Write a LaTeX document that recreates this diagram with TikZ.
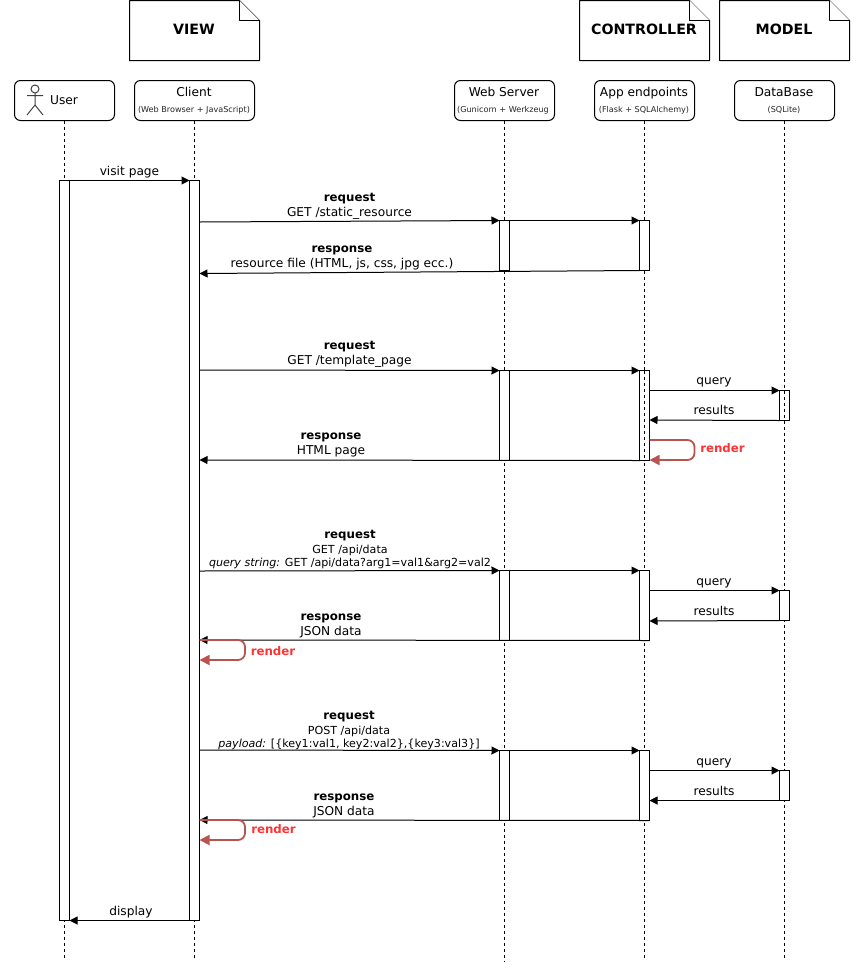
\documentclass[tikz,border=0pt]{standalone}
\usepackage{fontspec}
\setmainfont{DejaVu Sans}
\usetikzlibrary{arrows.meta}
\definecolor{rnd}{HTML}{B85450}
\definecolor{rtxt}{HTML}{FF3333}
\newcommand{\fsA}{\fontsize{12.2}{14}\selectfont}
\newcommand{\fsBold}{\fontsize{11.8}{14}\selectfont}
\newcommand{\fsB}{\fontsize{11.1}{13}\selectfont}
\newcommand{\fsS}{\fontsize{8.1}{10}\selectfont}
\tikzset{
  part/.style={draw=black,fill=white,rounded corners=6pt,line width=1pt,minimum width=#1,minimum height=40pt,inner sep=0pt,outer sep=0pt,anchor=north west},
  txt/.style={inner sep=0pt,outer sep=0pt,font=\fsA,text=black,anchor=base,yshift=-4pt},
  small/.style={inner sep=0pt,outer sep=0pt,font=\fsS,text=black!85,anchor=base,yshift=-3pt},
  subtxt/.style={inner sep=0pt,outer sep=0pt,font=\fsB,text=black,anchor=base,yshift=-4pt},
  btxt/.style={inner sep=0pt,outer sep=0pt,font=\fsBold\bfseries,text=black,anchor=base,yshift=-4pt},
  rentxt/.style={inner sep=0pt,outer sep=0pt,font=\fsBold\bfseries,text=rtxt,anchor=base,yshift=-4.3pt},
  notetxt/.style={inner sep=0pt,outer sep=0pt,font=\fontsize{14.2}{17}\selectfont\bfseries,text=black,anchor=base,yshift=-5pt},
  life/.style={draw=black,line width=0.9pt,dash pattern=on 3pt off 3pt},
  bar/.style={draw=black,fill=white,line width=1pt,minimum width=10pt,minimum height=#1,inner sep=0pt,outer sep=0pt,anchor=north},
  msg/.style={draw=black,line width=1pt,-{Triangle[length=8pt,width=8pt]}},
  rmsg/.style={draw=rnd,line width=1.8pt,rounded corners=7pt,-{Triangle[length=10pt,width=10pt]}},
  notebox/.style={draw=black,fill=white,line width=1pt,line join=round}
}
\begin{document}
\begin{tikzpicture}[x=1pt,y=-1pt]
\useasboundingbox[fill=white] (0,0) rectangle (865,978);
% notes
\draw[notebox] (129.5,0.5) -- (239.5,0.5) -- (259.5,20.5) -- (259.5,60.5) -- (129.5,60.5) -- cycle;
\draw[notebox] (239.5,0.5) -- (239.5,20.5) -- (259.5,20.5);
\node[notetxt] (nview) at (194,29.5) {VIEW};
\draw[notebox] (579.5,0.5) -- (689.5,0.5) -- (709.5,20.5) -- (709.5,60.5) -- (579.5,60.5) -- cycle;
\draw[notebox] (689.5,0.5) -- (689.5,20.5) -- (709.5,20.5);
\node[notetxt] (nctrl) at (644,29.5) {CONTROLLER};
\draw[notebox] (719.5,0.5) -- (829.5,0.5) -- (849.5,20.5) -- (849.5,60.5) -- (719.5,60.5) -- cycle;
\draw[notebox] (829.5,0.5) -- (829.5,20.5) -- (849.5,20.5);
\node[notetxt] (nmodel) at (784,29.5) {MODEL};
% participants
\node[part=100pt] (user) at (14.5,80.5) {};
\node[part=120pt] (client) at (134.5,80.5) {};
\node[part=100pt] (web) at (454.5,80.5) {};
\node[part=100pt] (app) at (594.5,80.5) {};
\node[part=100pt] (db) at (734.5,80.5) {};
\node[txt] (userl) at (64,100) {User};
\node[txt] (clientl) at (194,92.5) {Client};
\node[small] (clients) at (194,109) {(Web Browser + JavaScript)};
\node[txt] (webl) at (504,92.5) {Web Server};
\node[small] (webs) at (503,109) {(Gunicorn + Werkzeug};
\node[txt] (appl) at (644,92.5) {App endpoints};
\node[small] (apps) at (644,109) {(Flask + SQLAlchemy)};
\node[txt] (dbl) at (784,92.5) {DataBase};
\node[small] (dbs) at (784,109) {(SQLite)};
% actor
\draw[draw=black!75,line width=1pt] (35,89) circle (4pt);
\draw[draw=black!75,line width=1pt] (35,93) -- (35,105) (27,95.5) -- (43,95.5) (27,115) -- (35,105) -- (43,115);
% lifelines
\coordinate (userend) at (64.5,958);
\coordinate (clientend) at (194.5,958);
\coordinate (webend) at (504.5,962);
\coordinate (append) at (644.5,958);
\coordinate (dbend) at (784.5,958);
\draw[life] (user.south) -- (userend);
\draw[life] (client.south) -- (clientend);
\draw[life] (web.south) -- (webend);
\draw[life] (app.south) -- (append);
\draw[life] (db.south) -- (dbend);
% activation bars
\node[bar=740pt] (ub) at (64.5,180.5) {};
\node[bar=740pt] (cb) at (194.5,180.5) {};
\node[bar=50pt] (w1) at (504.5,220.5) {};
\node[bar=50pt] (a1) at (644.5,220.5) {};
\node[bar=90pt] (w2) at (504.5,370.5) {};
\node[bar=90pt] (a2) at (644.5,370.5) {};
\node[bar=30pt] (d2) at (784.5,390.5) {};
\draw[life] (a2.north) -- (a2.south);
\draw[life] (d2.north) -- (d2.south);
\node[bar=70pt] (w3) at (504.5,570.5) {};
\node[bar=70pt] (a3) at (644.5,570.5) {};
\node[bar=30pt] (d3) at (784.5,590.5) {};
\node[bar=70pt] (w4) at (504.5,750.5) {};
\node[bar=70pt] (a4) at (644.5,750.5) {};
\node[bar=30pt] (d4) at (784.5,770.5) {};
% messages
\draw[msg] (ub.north east) -- (cb.north west);
\draw[msg] (cb.east |- 0,222) -- (w1.north west);
\draw[msg] (w1.north east) -- (a1.north west);
\draw[msg] (a1.south west) -- (cb.east |- 0,273.5);
\draw[msg] (cb.east |- 0,370) -- (w2.north west);
\draw[msg] (w2.north east) -- (a2.north west);
\draw[msg] (a2.east |- 0,390.5) -- (d2.north west);
\draw[msg] (d2.south west) -- (a2.east |- 0,420);
\draw[msg] (a2.south west) -- (cb.east |- 0,460);
\draw[msg] (cb.east |- 0,571) -- (w3.north west);
\draw[msg] (w3.north east) -- (a3.north west);
\draw[msg] (a3.east |- 0,590.5) -- (d3.north west);
\draw[msg] (d3.south west) -- (a3.east |- 0,621);
\draw[msg] (a3.south east) -- (cb.east |- 0,640);
\draw[msg] (cb.east |- 0,750) -- (w4.north west);
\draw[msg] (w4.north east) -- (a4.north west);
\draw[msg] (a4.east |- 0,770.5) -- (d4.north west);
\draw[msg] (d4.south west) -- (a4.east |- 0,800.5);
\draw[msg] (a4.south east) -- (cb.east |- 0,820);
\draw[msg] (cb.south west) -- (ub.south east);
% render loops
\draw[rmsg] (a2.east |- 0,440) -- (694.5,440) -- (694.5,460) -- (a2.east |- 0,460);
\draw[rmsg] (cb.east |- 0,640) -- (245,640) -- (245,660) -- (cb.east |- 0,660);
\draw[rmsg] (cb.east |- 0,820) -- (245,820) -- (245,840) -- (cb.east |- 0,840);
% labels
\node[txt] (l1) at (129.5,171) {visit page};
\node[btxt] (l2) at (349.5,197) {request};
\node[txt] (l3) at (349.5,212) {GET /static\_resource};
\node[btxt] (l4) at (342,248) {response};
\node[txt] (l5) at (342,263) {resource file (HTML, js, css, jpg ecc.)};
\node[btxt] (l6) at (349.5,345) {request};
\node[txt] (l7) at (349.5,360) {GET /template\_page};
\node[btxt] (l8) at (331,435) {response};
\node[txt] (l9) at (331,450) {HTML page};
\node[txt] (q1) at (714,380) {query};
\node[txt] (r1) at (714,410) {results};
\node[rentxt] (x1) at (722.5,448) {render};
\node[btxt] (l10) at (350,534) {request};
\node[subtxt] (l11) at (350,549) {GET /api/data};
\node[subtxt] (l12) at (350,562) {\itshape query string:\upshape{} GET /api/data?arg1=val1\&arg2=val2};
\node[btxt] (l13) at (331,616) {response};
\node[txt] (l14) at (331,631) {JSON data};
\node[txt] (q2) at (714,581) {query};
\node[txt] (r2) at (714,611) {results};
\node[rentxt] (x2) at (273,651) {render};
\node[btxt] (l15) at (349,715) {request};
\node[subtxt] (l16) at (349,730) {POST /api/data};
\node[subtxt] (l17) at (349,743) {\itshape payload:\upshape{} [\{key1:val1, key2:val2\},\{key3:val3\}]};
\node[btxt] (l18) at (344,796) {response};
\node[txt] (l19) at (344,811) {JSON data};
\node[txt] (q3) at (714,761) {query};
\node[txt] (r3) at (714,791) {results};
\node[rentxt] (x3) at (273.5,829) {render};
\node[txt] (l20) at (131,911) {display};
\end{tikzpicture}
\end{document}
